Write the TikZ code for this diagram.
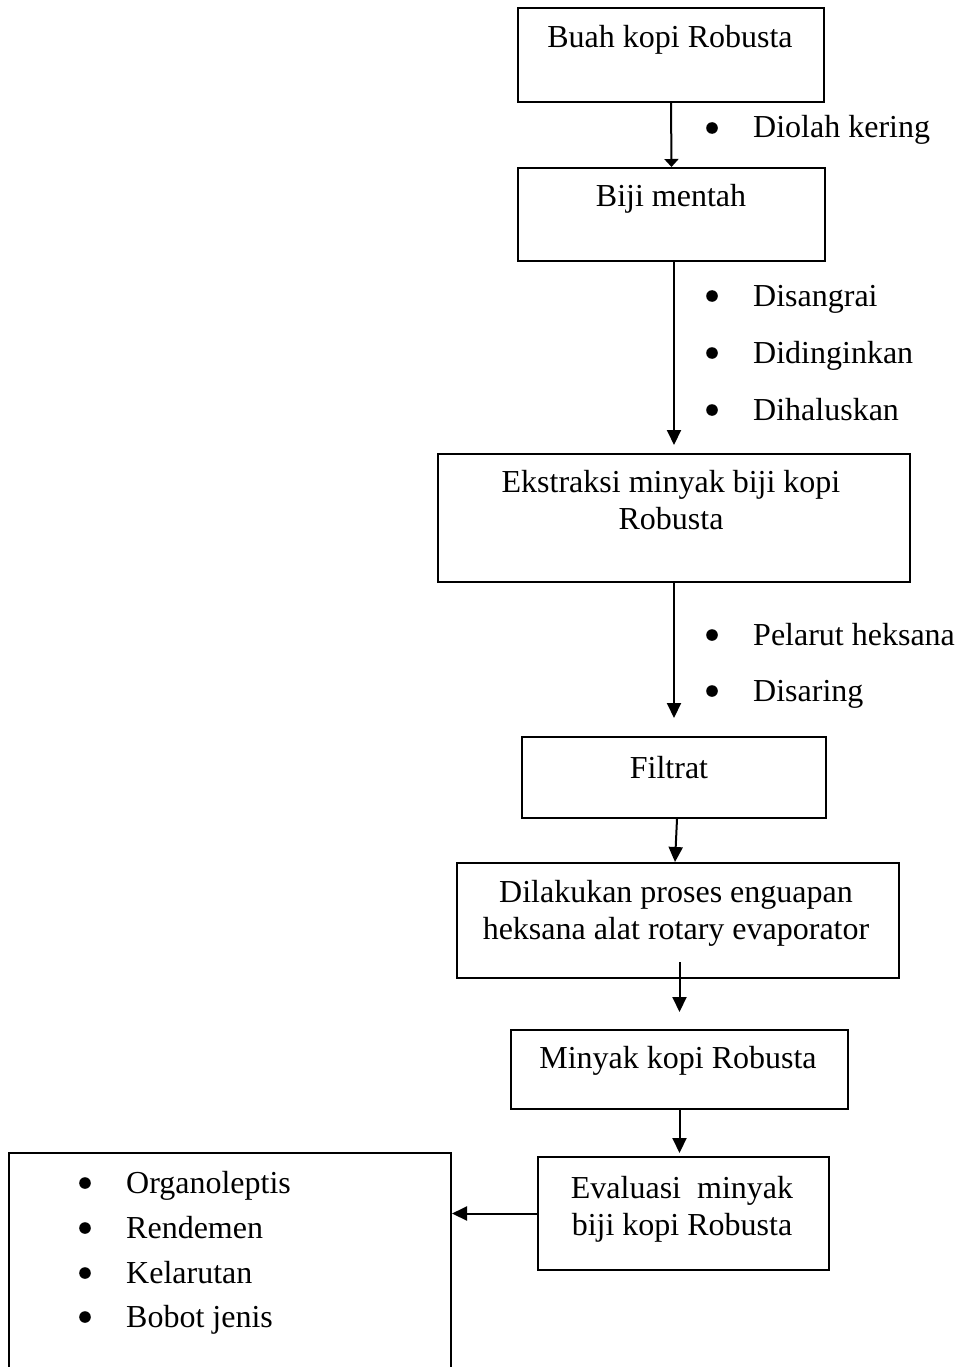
\documentclass[tikz,border=0pt]{standalone}
\usepackage{fontspec}
\setmainfont{Liberation Serif}
\usetikzlibrary{arrows.meta,calc}
\begin{document}
\begin{tikzpicture}[x=1pt,y=-1pt,
  box/.style={draw,line width=2pt,inner sep=0pt,anchor=north west},
  lbl/.style={inner sep=0pt,anchor=base,align=center,font=\fontsize{32}{37}\selectfont},
  bul/.style={inner sep=0pt,anchor=base west,font=\fontsize{32}{37}\selectfont},
  arr/.style={line width=2pt,-{Triangle[length=15pt,width=14pt]}}]
\useasboundingbox (0,0) rectangle (957,1367);
\clip (0,0) rectangle (957,1367);

% boxes
\node[box,minimum width=306pt,minimum height=94pt] (b1) at (517,7) {};
\node[box,minimum width=307pt,minimum height=93pt] (b2) at (517,167) {};
\node[box,minimum width=472pt,minimum height=128pt] (b3) at (437,453) {};
\node[box,minimum width=304pt,minimum height=81pt] (b4) at (521,736) {};
\node[box,minimum width=442pt,minimum height=115pt] (b5) at (456,862) {};
\node[box,minimum width=337pt,minimum height=79pt] (b6) at (510,1029) {};
\node[box,minimum width=291pt,minimum height=113pt] (b7) at (537,1156) {};
\node[box,minimum width=442pt,minimum height=260pt] (params) at (8,1152) {};

% box texts (multi-line nodes: base = last line)
\node[lbl] (t1) at (670,48) {Buah kopi Robusta};
\node[lbl] (t2) at (671,207) {Biji mentah};
\node[lbl] (t3) at (671,529) {Ekstraksi minyak biji kopi\\Robusta};
\node[lbl] (t4) at (669,778) {Filtrat};
\node[lbl] (t5) at (676,939) {Dilakukan proses enguapan\\heksana alat rotary evaporator};
\node[lbl] (t6) at (678,1068) {Minyak kopi Robusta};
\node[lbl] (t7) at (682,1235) {Evaluasi~ minyak\\biji kopi Robusta};

% bullet list items
\node[bul] (s1) at (753,138) {Diolah kering};
\node[bul] (s2) at (753,306) {Disangrai};
\node[bul] (s3) at (753,363) {Didinginkan};
\node[bul] (s4) at (753,420) {Dihaluskan};
\node[bul] (s5) at (753,645) {Pelarut heksana};
\node[bul] (s6) at (753,701) {Disaring};
\node[bul] (p1) at (126,1193) {Organoleptis};
\node[bul] (p2) at (126,1238) {Rendemen};
\node[bul] (p3) at (126,1283) {Kelarutan};
\node[bul] (p4) at (126,1327) {Bobot jenis};
\foreach \n in {s1,s2,s3,s4,s5,s6,p1,p2,p3,p4}
  \fill ($(\n.base west)+(-41,-10)$) circle (5.8pt);

% connectors
\draw[line width=2pt,-{Triangle[length=8pt,width=14pt]}] (b1.south) -- (b2.north);
\draw[arr] (b2.south -| b3.north) -- ($(b3.north)+(0,-8)$);
\draw[arr] (b3.south) -- ($(b4.north)+(0,-18)$);
\draw[arr] ($(b4.south)+(3,0)$) -- ($(b5.north)+(-3,0)$);
\draw[arr] ($(b6.north)+(0,-67)$) -- ($(b6.north)+(0,-17)$);
\draw[arr] (b6.south) -- ($(b7.north -| b6.south)+(0,-3)$);
\draw[arr] (b7.west) -- (b7.west -| params.east);
\end{tikzpicture}
\end{document}
